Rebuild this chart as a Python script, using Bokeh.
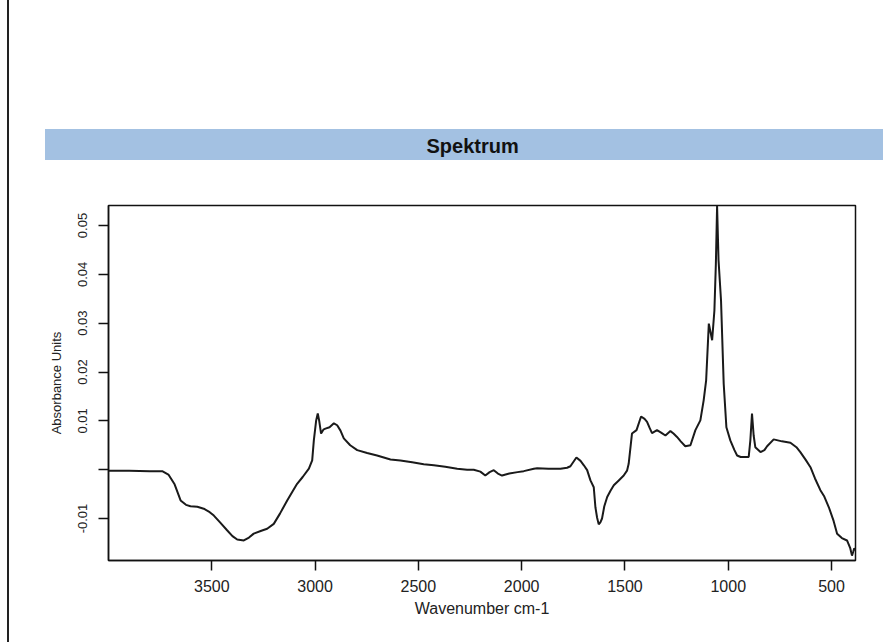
from bokeh.plotting import figure
from bokeh.models import Range1d, FixedTicker, ColumnDataSource, Title
from bokeh.embed import file_html
from bokeh.resources import INLINE

# ---- data ----
title_text = "Spektrum"
x_label = "Wavenumber cm-1"
y_label = "Absorbance Units"
x_ticks = [3500, 3000, 2500, 2000, 1500, 1000, 500]
y_ticks = [-0.01, 0.0, 0.01, 0.02, 0.03, 0.04, 0.05]
y_tick_labels = ["-0.01", "", "0.01", "0.02", "0.03", "0.04", "0.05"]

wavenumber = [
    4000, 3900, 3800, 3740, 3710, 3680, 3651, 3625, 3603, 3570, 3539, 3510, 3490,
    3460, 3426, 3400, 3377, 3345, 3320, 3297, 3260, 3232, 3200, 3170, 3135, 3110,
    3087, 3060, 3030, 3014, 3006, 2995, 2987, 2980, 2971, 2960, 2950, 2930, 2909,
    2893, 2877, 2861, 2830, 2796, 2748, 2700, 2635, 2587, 2530, 2474, 2425, 2370,
    2312, 2264, 2232, 2200, 2176, 2155, 2135, 2115, 2095, 2060, 2020, 1990, 1941,
    1925, 1870, 1812, 1780, 1764, 1735, 1715, 1699, 1683, 1667, 1651, 1643, 1635,
    1627, 1619, 1611, 1600, 1586, 1570, 1554, 1530, 1506, 1490, 1482, 1466, 1444,
    1422, 1405, 1393, 1380, 1369, 1345, 1325, 1304, 1280, 1265, 1248, 1230, 1208,
    1183, 1159, 1135, 1119, 1107, 1094, 1085, 1078, 1067, 1060, 1054, 1047, 1035,
    1022, 1009, 990, 970, 957, 940, 925, 901, 893, 885, 877, 869, 844, 825, 812,
    780, 740, 699, 670, 651, 625, 602, 580, 554, 535, 513, 490, 473, 450, 425,
    410, 401, 395, 390, 384,
]
absorbance = [
    -0.0002, -0.0002, -0.0003, -0.0003, -0.0010, -0.0030, -0.0063, -0.0072, -0.0075,
    -0.0076, -0.0080, -0.0087, -0.0094, -0.0108, -0.0124, -0.0136, -0.0143, -0.0145,
    -0.0139, -0.0131, -0.0125, -0.0121, -0.0111, -0.0090, -0.0063, -0.0045, -0.0029,
    -0.0015, 0.0002, 0.0019, 0.0060, 0.0100, 0.0115, 0.0100, 0.0074, 0.0082, 0.0084,
    0.0087, 0.0095, 0.0091, 0.0080, 0.0064, 0.0050, 0.0040, 0.0034, 0.0029, 0.0021,
    0.0019, 0.0015, 0.0011, 0.0009, 0.0006, 0.0002, 0.0000, 0.0000, -0.0004, -0.0012,
    -0.0005, -0.0001, -0.0008, -0.0012, -0.0008, -0.0005, -0.0003, 0.0002, 0.0003,
    0.0002, 0.0002, 0.0004, 0.0007, 0.0025, 0.0018, 0.0009, -0.0001, -0.0022, -0.0036,
    -0.0077, -0.0098, -0.0112, -0.0108, -0.0100, -0.0075, -0.0056, -0.0043, -0.0032,
    -0.0022, -0.0012, -0.0002, 0.0012, 0.0074, 0.0081, 0.0109, 0.0104, 0.0098, 0.0085,
    0.0075, 0.0081, 0.0076, 0.0070, 0.0079, 0.0074, 0.0067, 0.0058, 0.0048, 0.0050,
    0.0081, 0.0101, 0.0142, 0.0183, 0.0299, 0.0280, 0.0265, 0.0326, 0.0420, 0.0540,
    0.0429, 0.0347, 0.0176, 0.0087, 0.0060, 0.0040, 0.0029, 0.0026, 0.0026, 0.0026,
    0.0060, 0.0115, 0.0070, 0.0046, 0.0036, 0.0040, 0.0048, 0.0062, 0.0058, 0.0055,
    0.0046, 0.0036, 0.0020, 0.0005, -0.0018, -0.0042, -0.0055, -0.0077, -0.0105,
    -0.0131, -0.0140, -0.0145, -0.0160, -0.0176, -0.0168, -0.0161, -0.0165,
]

FONT = "Liberation Sans"
W, H = 883, 642

p = figure(width=W, height=H, x_range=Range1d(4000, 384),
           y_range=Range1d(-0.0186, 0.0541),
           toolbar_location=None, output_backend="svg",
           min_border_left=108, min_border_right=28,
           min_border_top=205, min_border_bottom=82)
p.grid.visible = False
p.outline_line_color = "#111111"
p.outline_line_width = 1.5
p.outline_line_alpha = 1.0
p.background_fill_color = "white"
p.border_fill_color = None

# header bar and left page rule painted behind the (transparent) canvas border
p.styles = {
    "background-color": "white",
    "background-image": "linear-gradient(#a3c1e2, #a3c1e2), linear-gradient(#222222, #222222)",
    "background-size": "838px 31px, 2px 642px",
    "background-position": "45px 129px, 7px 0px",
    "background-repeat": "no-repeat",
}

p.add_layout(Title(text=title_text, align="left", offset=318, standoff=98,
                   text_font=FONT, text_font_size="20px", text_font_style="bold",
                   text_color="#111111"), "above")

src = ColumnDataSource(dict(x=wavenumber, y=absorbance))
p.line("x", "y", source=src, line_color="#1a1a1a", line_width=2)

for ax in (p.xaxis[0], p.yaxis[0]):
    ax.axis_line_color = "#111111"
    ax.axis_line_width = 1.5
    ax.major_tick_line_color = "#111111"
    ax.major_tick_line_width = 1.5
    ax.major_tick_out = 10
    ax.major_tick_in = 0
    ax.minor_tick_line_color = None
    ax.major_label_text_font = FONT
    ax.major_label_text_color = "#222222"
    ax.axis_label_text_font = FONT
    ax.axis_label_text_font_style = "normal"
    ax.axis_label_text_color = "#222222"

p.xaxis.ticker = FixedTicker(ticks=x_ticks)
p.xaxis.major_label_text_font_size = "16px"
p.xaxis.axis_label = x_label
p.xaxis.axis_label_text_font_size = "16px"
p.xaxis.major_label_standoff = 9
p.xaxis.axis_label_standoff = 5

p.yaxis.ticker = FixedTicker(ticks=y_ticks)
p.yaxis.major_label_overrides = {t: l for t, l in zip(y_ticks, y_tick_labels)}
p.yaxis.major_label_orientation = "vertical"
p.yaxis.major_label_text_font_size = "13px"
p.yaxis.axis_label = y_label
p.yaxis.axis_label_text_font_size = "13px"
p.yaxis.major_label_standoff = 11
p.yaxis.axis_label_standoff = 12

open("out.html", "w").write(file_html(p, INLINE))
